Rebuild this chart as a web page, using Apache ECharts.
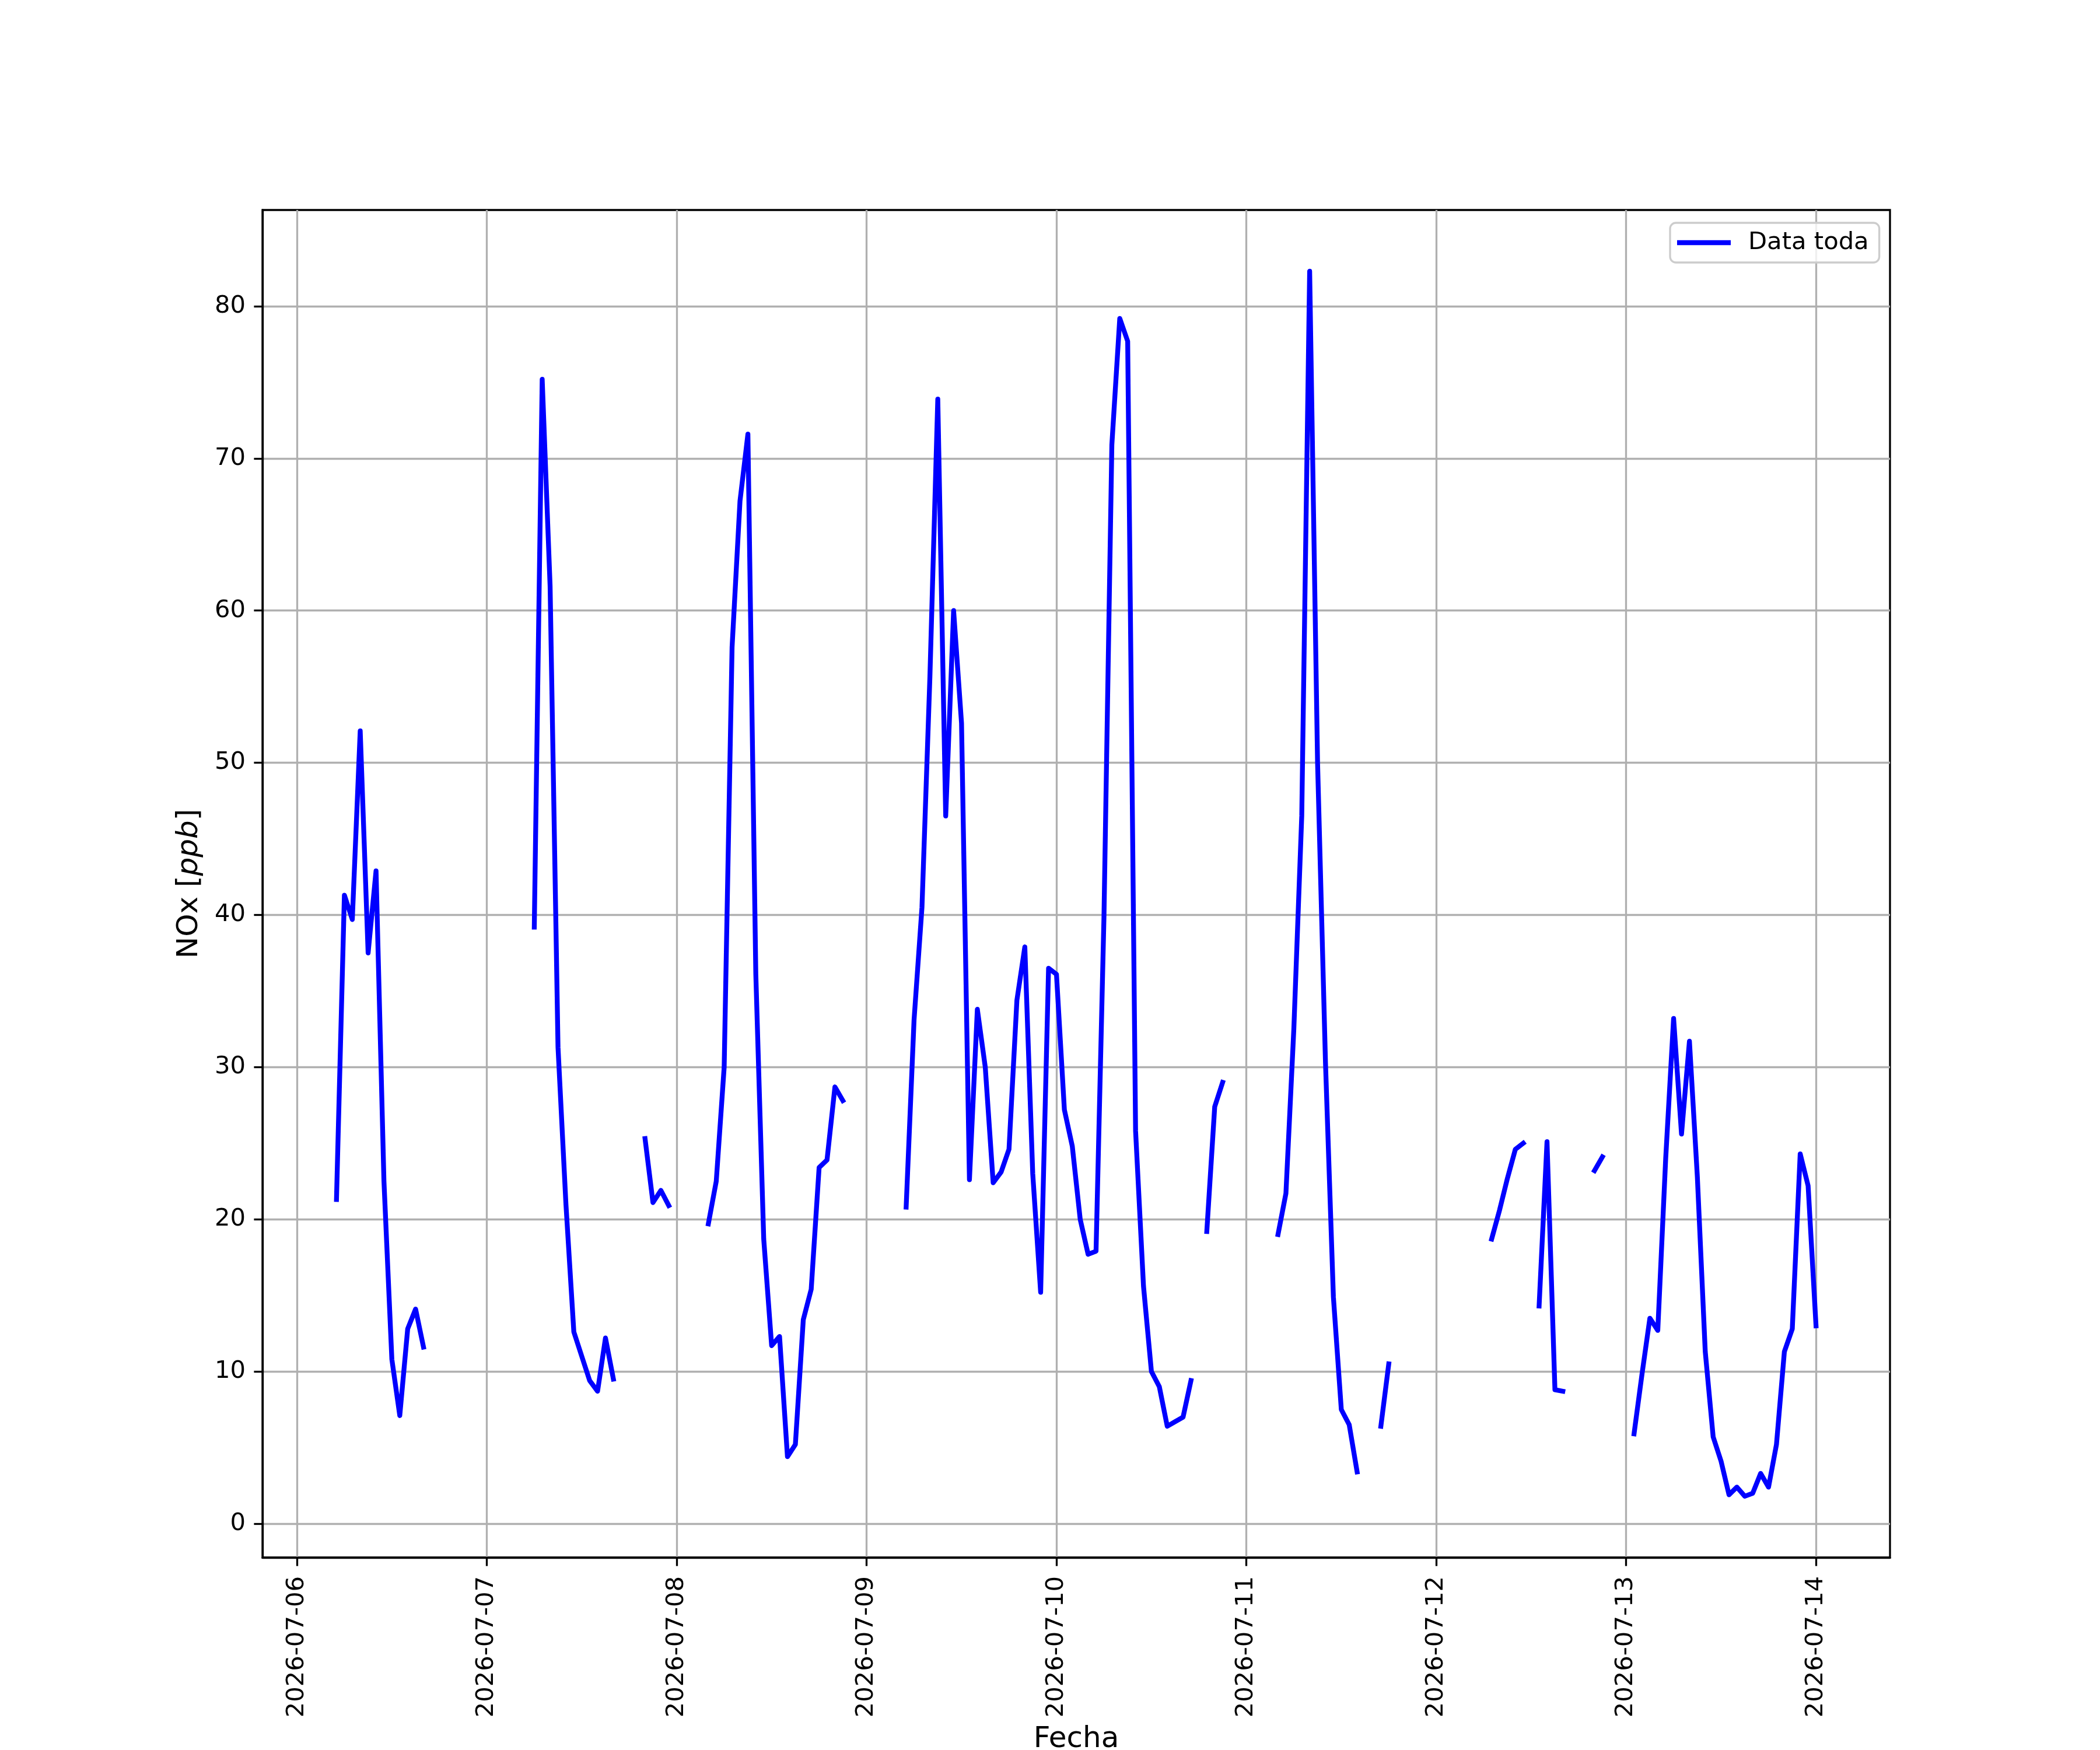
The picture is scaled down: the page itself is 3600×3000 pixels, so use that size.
<!DOCTYPE html>
<html>
<head>
<meta charset="utf-8">
<script src="https://cdn.jsdelivr.net/npm/echarts@6/dist/echarts.min.js"></script>
<style>html,body{margin:0;padding:0;background:#fff;}#chart{width:3600px;height:3000px;}</style>
</head>
<body>
<div id="chart"></div>
<script>
// Hourly NOx [ppb], one array per day (hours 00..23), null = no data
const dayLabels = ['2026-07-06','2026-07-07','2026-07-08','2026-07-09','2026-07-10','2026-07-11','2026-07-12','2026-07-13','2026-07-14'];
const nox_0706 = [null,null,null,null,null,21.3,41.3,39.7,52.1,37.5,42.9,22.5,10.8,7.1,12.8,14.1,11.6,null,null,null,null,null,null,null];
const nox_0707 = [null,null,null,null,null,null,39.2,75.2,61.6,31.3,21.0,12.6,11.0,9.4,8.7,12.2,9.5,null,null,null,25.3,21.1,21.9,20.9];
const nox_0708 = [null,null,null,null,19.7,22.5,30.0,57.6,67.2,71.6,36.1,18.7,11.7,12.3,4.4,5.2,13.4,15.4,23.4,23.9,28.7,27.8,null,null];
const nox_0709 = [null,null,null,null,null,20.8,33.1,40.5,55.6,73.9,46.5,60.0,52.6,22.6,33.8,30.0,22.4,23.1,24.6,34.4,37.9,23.0,15.2,36.5];
const nox_0710 = [36.1,27.2,24.8,20.0,17.7,17.9,39.8,70.9,79.2,77.7,25.8,15.6,10.0,9.0,6.4,6.7,7.0,9.4,null,19.2,27.4,29.0,null,null];
const nox_0711 = [null,null,null,null,19.0,21.7,32.5,46.5,82.3,50.0,30.3,14.9,7.5,6.5,3.4,null,null,6.4,10.5,null,null,null,null,null];
const nox_0712 = [null,null,null,null,null,null,null,18.7,20.6,22.7,24.6,25.0,null,14.3,25.1,8.8,8.7,null,null,null,23.2,24.1,null,null];
const nox_0713 = [null,5.9,9.8,13.5,12.7,24.0,33.2,25.6,31.7,22.8,11.3,5.7,4.1,1.9,2.4,1.8,2.0,3.3,2.4,5.2,11.3,12.8,24.3,22.2];
const nox_0714 = [13.0];
const yTicks = [0,10,20,30,40,50,60,70,80];

const dayArrays = [nox_0706,nox_0707,nox_0708,nox_0709,nox_0710,nox_0711,nox_0712,nox_0713,nox_0714];
const data = [];
dayArrays.forEach((arr, d) => {
  arr.forEach((v, h) => {
    data.push([new Date(2026, 6, 6 + d, h).getTime(), v]);
  });
});
const dayTicks = dayLabels.map((s, d) => new Date(2026, 6, 6 + d, 0).getTime());

// matplotlib-like 5% margins
const valid = data.filter(p => p[1] !== null);
const tMin = Math.min(...valid.map(p => p[0])), tMax = Math.max(...valid.map(p => p[0]));
const vMin = Math.min(...valid.map(p => p[1])), vMax = Math.max(...valid.map(p => p[1]));
const xMin = tMin - 0.05 * (tMax - tMin), xMax = tMax + 0.05 * (tMax - tMin);
const yMin = vMin - 0.05 * (vMax - vMin), yMax = vMax + 0.05 * (vMax - vMin);

function fmtDay(v) {
  const d = new Date(v);
  const p = n => String(n).padStart(2, '0');
  return d.getFullYear() + '-' + p(d.getMonth() + 1) + '-' + p(d.getDate());
}

const FONT = 'DejaVu Sans';
const chart = echarts.init(document.getElementById('chart'), null, {renderer: 'canvas'});
chart.setOption({
  animation: false,
  backgroundColor: '#ffffff',
  textStyle: {fontFamily: FONT},
  grid: {left: 450, top: 360, width: 2790, height: 2310, show: true, borderColor: '#000', borderWidth: 3.3, backgroundColor: 'transparent', containLabel: false, outerBoundsMode: 'none'},
  legend: {
    data: [{name: 'Data toda', icon: 'rect'}],
    left: 2863, top: 382,
    itemWidth: 92, itemHeight: 8.3,
    backgroundColor: 'rgba(255,255,255,0.8)',
    borderColor: '#cccccc', borderWidth: 3.3, borderRadius: 10,
    padding: [13, 18, 13, 12],
    textStyle: {fontSize: 41.7, fontFamily: FONT, color: '#000', padding: [0, 0, 0, 25]}
  },
  xAxis: {
    type: 'value',
    min: xMin, max: xMax,
    name: 'Fecha', nameLocation: 'middle', nameGap: 287,
    nameTextStyle: {fontSize: 50, fontFamily: FONT, color: '#000'},
    axisLine: {show: true, onZero: false, lineStyle: {color: '#000', width: 3.3}},
    axisTick: {show: true, length: 14.6, lineStyle: {color: '#000', width: 3.3}, customValues: dayTicks},
    axisLabel: {rotate: 90, fontSize: 41.7, fontFamily: FONT, color: '#000', margin: 32, customValues: dayTicks, formatter: fmtDay, hideOverlap: false},
    splitLine: {show: true, lineStyle: {color: '#b0b0b0', width: 3.3}}
  },
  yAxis: {
    type: 'value',
    min: yMin, max: yMax,
    name: '{n|NOx [}{i|ppb}{n|]}', nameLocation: 'middle', nameGap: 100, nameRotate: 90,
    nameTextStyle: {fontSize: 50, fontFamily: FONT, color: '#000',
      rich: {n: {fontSize: 50, fontFamily: FONT, color: '#000'}, i: {fontSize: 50, fontFamily: FONT, fontStyle: 'italic', color: '#000'}}},
    axisLine: {show: true, onZero: false, lineStyle: {color: '#000', width: 3.3}},
    axisTick: {show: true, length: 14.6, lineStyle: {color: '#000', width: 3.3}, customValues: yTicks},
    axisLabel: {fontSize: 41.7, fontFamily: FONT, color: '#000', margin: 29, customValues: yTicks},
    splitLine: {show: true, lineStyle: {color: '#b0b0b0', width: 3.3}}
  },
  series: [{
    name: 'Data toda',
    type: 'line',
    data: data,
    showSymbol: false,
    connectNulls: false,
    color: '#0000ff',
    lineStyle: {color: '#0000ff', width: 8.3, cap: 'square', join: 'round'},
    emphasis: {disabled: true}
  }]
});
</script>
</body>
</html>
